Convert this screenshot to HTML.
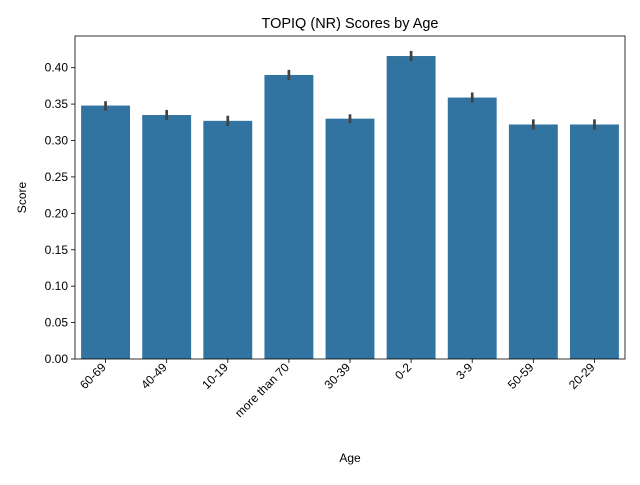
<!DOCTYPE html>
<html><head><meta charset="utf-8"><style>
body{margin:0;background:#fff;}
svg text{font-family:"Liberation Sans","DejaVu Sans",sans-serif;fill:#000;}
</style></head><body>
<svg id="chart" width="640" height="480" xmlns="http://www.w3.org/2000/svg"></svg>
<script>
const categories=["60-69","40-49","10-19","more than 70","30-39","0-2","3-9","50-59","20-29"];
const scores=[0.348,0.335,0.327,0.390,0.330,0.416,0.359,0.322,0.322];
const errLow=[0.007,0.007,0.007,0.007,0.006,0.007,0.007,0.007,0.007];
const errHigh=[0.006,0.007,0.007,0.007,0.006,0.007,0.007,0.007,0.007];
const yTicks=[0,0.05,0.10,0.15,0.20,0.25,0.30,0.35,0.40];

const NS="http://www.w3.org/2000/svg";
const svg=document.getElementById('chart');
const L=75,R=625,T=36,B=359;
const yMax=0.4435;
const y=v=>B-(v/yMax)*(B-T);
const band=(R-L)/categories.length;
const x=i=>L+band*i+band*0.1;
const bw=band*0.8;
function el(tag,attrs){const e=document.createElementNS(NS,tag);for(const k in attrs)e.setAttribute(k,attrs[k]);svg.appendChild(e);return e;}

categories.forEach((c,i)=>{
  const r=el('rect',{x:x(i),y:y(scores[i]),width:bw,height:B-y(scores[i]),fill:'#3274a1'});
  
  
  const cx=x(i)+bw/2;
  const e=el('line',{x1:cx,x2:cx,y1:y(scores[i]+errHigh[i]),y2:y(scores[i]-errLow[i]),stroke:'#424242','stroke-width':2.7});
  
  
  el('line',{x1:cx,x2:cx,y1:B,y2:B+4,stroke:'#000','stroke-width':0.8});
  const ax=cx+1,ay=B+9;
  const t=el('text',{x:ax,y:ay,'font-size':12,'text-anchor':'end',transform:`rotate(-45 ${ax} ${ay})`});
  t.textContent=c;
  
  
});
yTicks.forEach(v=>{
  el('line',{x1:L-4,x2:L,y1:y(v),y2:y(v),stroke:'#000','stroke-width':0.8});
  const t=el('text',{x:L-7,y:y(v)+4,'font-size':12,'text-anchor':'end'});
  t.textContent=v.toFixed(2);
  
  
});
const frame=el('rect',{x:L,y:T,width:R-L,height:B-T,fill:'none',stroke:'#000','stroke-width':0.8});


const title=el('text',{x:(L+R)/2,y:28,'font-size':14.5,'text-anchor':'middle'});
title.textContent='TOPIQ (NR) Scores by Age';


const xt=el('text',{x:(L+R)/2,y:462,'font-size':12,'text-anchor':'middle'});
xt.textContent='Age';


const yt=el('text',{x:26,y:(T+B)/2,'font-size':12,'text-anchor':'middle',transform:`rotate(-90 26 ${(T+B)/2})`});
yt.textContent='Score';


</script>
</body></html>
